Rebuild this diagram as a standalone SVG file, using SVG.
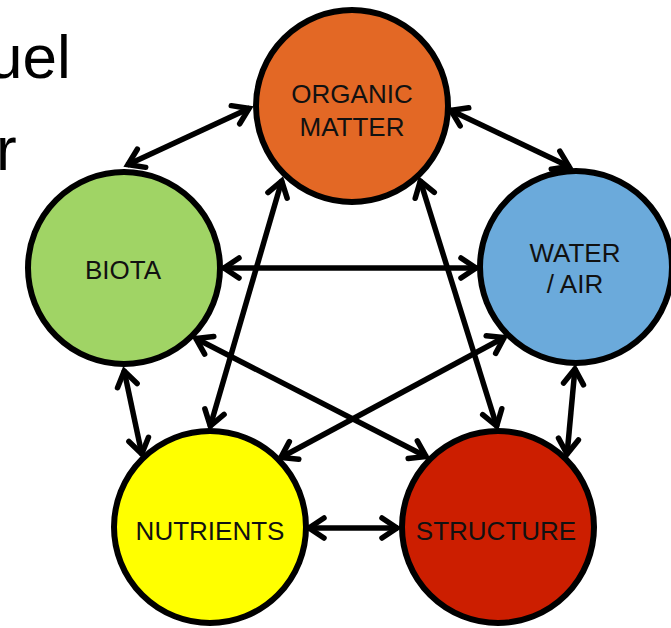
<svg xmlns="http://www.w3.org/2000/svg" width="671" height="628" viewBox="0 0 671 628">
<style>
.node{stroke:#000;stroke-width:6}
.lbl{font-family:"Liberation Sans",Arial,sans-serif;font-size:26px;fill:#111;text-anchor:middle}
.big{font-family:"Liberation Sans",Arial,sans-serif;font-size:62px;fill:#000}
.con{stroke:#000;stroke-width:5.5;fill:none;marker-start:url(#ah);marker-end:url(#ah)}
</style>
<defs>
<marker id="ah" markerUnits="userSpaceOnUse" viewBox="-22 -16 26 32" markerWidth="26" markerHeight="32" refX="1" refY="0" orient="auto-start-reverse" overflow="visible">
<path d="M-15,-10 L0,0 L-15,10" fill="none" stroke="#000" stroke-width="5.5" stroke-linecap="round" stroke-linejoin="miter"/>
</marker>
</defs>
<rect width="671" height="628" fill="#fff"/>
<text class="big" x="-12" y="78">uel</text>
<text class="big" x="-4" y="170">r</text>
<g id="connectors">
<line class="con" x1="250" y1="108" x2="127" y2="165"/>
<line class="con" x1="450" y1="110" x2="570" y2="167"/>
<line class="con" x1="223" y1="268" x2="477" y2="268"/>
<line class="con" x1="282" y1="180" x2="210" y2="427"/>
<line class="con" x1="420" y1="180" x2="497" y2="427"/>
<line class="con" x1="195" y1="338" x2="427" y2="457"/>
<line class="con" x1="505" y1="337" x2="280" y2="458"/>
<line class="con" x1="124" y1="370" x2="142" y2="455"/>
<line class="con" x1="575" y1="368" x2="567" y2="455"/>
<line class="con" x1="308" y1="528" x2="398" y2="528"/>
</g>
<g id="organic-matter">
<circle class="node" cx="352" cy="106" r="96" fill="#E36825"/>
<text class="lbl" x="352" y="103">ORGANIC</text>
<text class="lbl" x="352" y="136">MATTER</text>
</g>
<g id="biota">
<circle class="node" cx="124" cy="268" r="96" fill="#A0D465" stroke="#5f5f5f"/>
<text class="lbl" x="123" y="279">BIOTA</text>
</g>
<g id="water-air">
<circle class="node" cx="576" cy="267" r="96" fill="#6BAADB"/>
<text class="lbl" x="575" y="262">WATER</text>
<text class="lbl" x="575" y="293">/ AIR</text>
</g>
<g id="nutrients">
<circle class="node" cx="210" cy="527" r="96" fill="#FFFF00"/>
<text class="lbl" x="210" y="540">NUTRIENTS</text>
</g>
<g id="structure">
<circle class="node" cx="498" cy="527" r="96" fill="#CC1E00"/>
<text class="lbl" x="496" y="540">STRUCTURE</text>
</g>
</svg>
